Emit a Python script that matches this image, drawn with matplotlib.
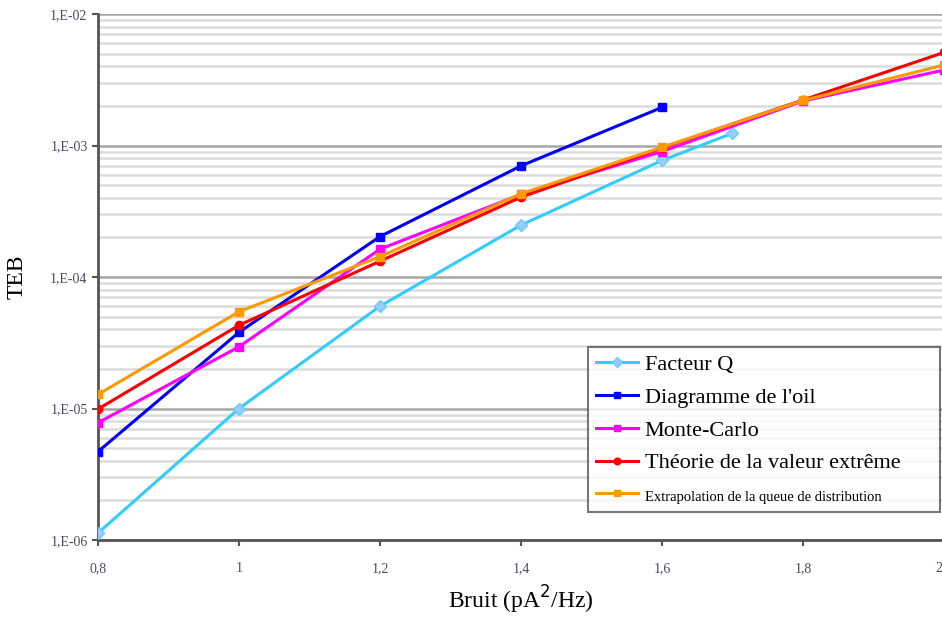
import matplotlib
matplotlib.use('Agg')
import matplotlib.pyplot as plt
from matplotlib.ticker import FixedLocator, LogLocator, NullFormatter

# valeurs
bruit_q = [0.8, 1.0, 1.2, 1.4, 1.6, 1.7]
teb_q = [1.13e-6, 1.0e-5, 6.0e-5, 2.48e-4, 7.7e-4, 1.24e-3]

bruit_oeil = [0.8, 1.0, 1.2, 1.4, 1.6]
teb_oeil = [4.7e-6, 3.8e-5, 2.03e-4, 7.0e-4, 1.95e-3]

bruit_mc = [0.8, 1.0, 1.2, 1.4, 1.6, 1.8, 2.0]
teb_mc = [7.8e-6, 2.95e-5, 1.63e-4, 4.25e-4, 9.0e-4, 2.18e-3, 3.75e-3]

bruit_tve = [0.8, 1.0, 1.2, 1.4, 1.6, 1.8, 2.0]
teb_tve = [9.9e-6, 4.3e-5, 1.32e-4, 4.05e-4, 9.6e-4, 2.22e-3, 5.1e-3]

bruit_ext = [0.8, 1.0, 1.2, 1.4, 1.6, 1.8, 2.0]
teb_ext = [1.28e-5, 5.45e-5, 1.43e-4, 4.3e-4, 9.7e-4, 2.2e-3, 4.1e-3]

x_ticks = [0.8, 1.0, 1.2, 1.4, 1.6, 1.8, 2.0]
x_labels = ['0,8', '1', '1,2', '1,4', '1,6', '1,8', '2']
y_ticks = [1e-6, 1e-5, 1e-4, 1e-3, 1e-2]
y_labels = ['1,E-06', '1,E-05', '1,E-04', '1,E-03', '1,E-02']

plt.rcParams['font.family'] = ['Liberation Serif', 'DejaVu Serif']

fig = plt.figure(figsize=(9.42, 6.21), dpi=100)
ax = fig.add_axes([98 / 942, 1 - 540 / 621, 846 / 942, 526 / 621])

ax.plot(bruit_q, teb_q, color='#33CCFF', lw=2.2, marker='D', ms=6,
        mfc='#99CCFF', mec='#66CCFF', label='Facteur Q', zorder=3)
ax.plot(bruit_oeil, teb_oeil, color='#0000FF', lw=2.2, marker='s', ms=6,
        label="Diagramme de l'oil", zorder=3)
ax.plot(bruit_mc, teb_mc, color='#FF00FF', lw=2.2, marker='s', ms=6,
        label='Monte-Carlo', zorder=3)
ax.plot(bruit_tve, teb_tve, color='#FF0000', lw=2.2, marker='o', ms=6,
        label='Théorie de la valeur extrême', zorder=4)
ax.plot(bruit_ext, teb_ext, color='#FF9900', lw=2.2, marker='s', ms=6,
        label='Extrapolation de la queue de distribution', zorder=4)

ax.set_yscale('log')
ax.set_ylim(1e-6, 1e-2)
ax.set_xlim(0.8, 2.0)

ax.yaxis.set_major_locator(FixedLocator(y_ticks))
ax.set_yticklabels(y_labels)
ax.yaxis.set_minor_locator(LogLocator(base=10, subs=range(2, 10)))
ax.yaxis.set_minor_formatter(NullFormatter())
ax.set_xticks(x_ticks)
# le dernier libellé ("2") touche le bord : on le pose à part, aligné à droite
ax.set_xticklabels(x_labels[:-1] + [''])

ax.grid(True, which='major', axis='y', color='#a6a6a6', lw=1.8)
ax.grid(True, which='minor', axis='y', color='#dcdcdc', lw=1.8)
ax.set_axisbelow(True)

ax.tick_params(axis='both', which='major', direction='out', length=4,
               width=1.5, color='#555555', labelsize=10, labelcolor='#4a4a6a')
ax.tick_params(axis='y', which='minor', length=0)
ax.tick_params(axis='x', pad=12)

ax.annotate(x_labels[-1], xy=(x_ticks[-1], 0), xycoords=('data', 'axes fraction'),
            xytext=(-1, -16), textcoords='offset points', ha='right', va='top',
            fontsize=10, color='#4a4a6a', annotation_clip=False)

for s in ['top', 'right']:
    ax.spines[s].set_visible(False)
for s in ['left', 'bottom']:
    ax.spines[s].set_color('#555555')
    ax.spines[s].set_linewidth(2)

ax.set_ylabel('TEB', fontsize=17, labelpad=16)
ax.set_xlabel('Bruit (pA$^2$/Hz)', fontsize=17, labelpad=6)

leg = fig.legend(loc='lower left',
                 bbox_to_anchor=(588 / 942, 1 - 512 / 621, 352 / 942, 174 / 621),
                 mode='expand', fontsize=16, frameon=True, fancybox=False,
                 handlelength=1.9, handletextpad=0.3, borderpad=0.35,
                 labelspacing=0.55, markerscale=0.8, borderaxespad=0)
leg.get_frame().set_edgecolor('#555555')
leg.get_frame().set_linewidth(1.5)
leg.get_texts()[4].set_fontsize(10.5)

fig.savefig('out.png', dpi=100)
